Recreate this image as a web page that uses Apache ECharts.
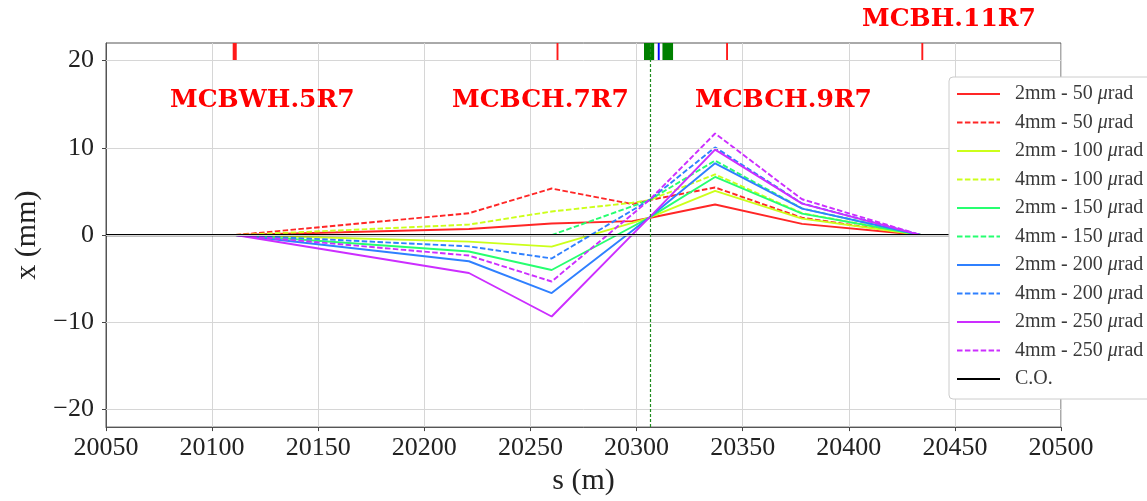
<!DOCTYPE html>
<html><head><meta charset="utf-8">
<script src="https://cdn.jsdelivr.net/npm/echarts@6/dist/echarts.min.js"></script>
<style>html,body{margin:0;padding:0;background:#fff}#c{width:1147px;height:501px}</style>
</head><body><div id="c"></div>
<script>
// ---- data ----
const S = [20111, 20221, 20260, 20298, 20306, 20337, 20378, 20434];
const seriesNames = ['2mm - 50 μrad','4mm - 50 μrad','2mm - 100 μrad','4mm - 100 μrad','2mm - 150 μrad','4mm - 150 μrad','2mm - 200 μrad','4mm - 200 μrad','2mm - 250 μrad','4mm - 250 μrad'];
const v2mm50  = [0,  0.70,  1.32, 1.60, 1.95,  3.50, 1.28, 0];
const v4mm50  = [0,  2.50,  5.33, 3.55, 4.00,  5.45, 1.98, 0];
const v2mm100 = [0, -0.75, -1.33, 1.40, 2.00,  5.07, 1.88, 0];
const v4mm100 = [0,  1.20,  2.70, 3.70, 4.00,  6.95, 2.50, 0];
const v2mm150 = [0, -1.88, -4.00, 0.95, 2.00,  6.65, 2.45, 0];
const v4mm150 = [0,  0.00,  0.00, 3.30, 4.00,  8.53, 3.05, 0];
const v2mm200 = [0, -3.00, -6.65, 0.49, 2.00,  8.22, 3.02, 0];
const v4mm200 = [0, -1.30, -2.68, 2.84, 4.00, 10.04, 3.62, 0];
const v2mm250 = [0, -4.35, -9.33, 0.05, 2.00,  9.78, 3.60, 0];
const v4mm250 = [0, -2.35, -5.32, 2.38, 4.00, 11.63, 4.10, 0];
const coS = [20050, 20500];
const coV = [0, 0];
const yTicks = [-20, -10, 0, 10, 20];
// top-strip elements: [s start, s end]
const redElems = [[20109.7, 20111.6], [20262.3, 20263.2], [20342.2, 20343.1], [20434.2, 20435.1]];
const greenElems = [[20303.5, 20308.3], [20312.2, 20317.2]];
const blueElems = [[20310.0, 20310.9]];
const ipLine = 20306.3;
const labels = [
  {text: 'MCBWH.5R7', x: 170, y: 102},
  {text: 'MCBCH.7R7', x: 452, y: 102},
  {text: 'MCBCH.9R7', x: 695, y: 102},
  {text: 'MCBH.11R7', x: 862, y: 21}
];
// ---- chart ----
const allVals = [v2mm50, v4mm50, v2mm100, v4mm100, v2mm150, v4mm150, v2mm200, v4mm200, v2mm250, v4mm250];
const colors = ['#ff2626', '#ff2626', '#ccff1a', '#ccff1a', '#26ff70', '#26ff70', '#2f80ff', '#2f80ff', '#cc2eff', '#cc2eff'];
const serif = 'Liberation Serif';
const series = allVals.map((vals, i) => ({
  name: seriesNames[i], type: 'line', symbol: 'none', z: 3,
  data: S.map((s, k) => [s, vals[k]]),
  lineStyle: {color: colors[i], width: 1.9, type: i % 2 ? [5.5, 2.4] : 'solid'},
  itemStyle: {color: colors[i]}
}));
series.push({
  name: 'C.O.', type: 'line', symbol: 'none', z: 4,
  data: coS.map((s, k) => [s, coV[k]]),
  lineStyle: {color: '#000', width: 2.2}, itemStyle: {color: '#000'}
});
const area = (arr, color) => arr.map(e => [{xAxis: e[0], yAxis: 20, itemStyle: {color}}, {xAxis: e[1], yAxis: 22}]);
series.push({
  name: 'helper', type: 'line', symbol: 'none', z: 1, silent: true,
  data: [[20050, null]],
  markLine: {
    silent: true, symbol: 'none', label: {show: false}, animation: false,
    data: [
      ...yTicks.map(v => ({yAxis: v, lineStyle: {color: '#d6d6d6', width: 1, type: 'solid'}})),
      {xAxis: ipLine, lineStyle: {color: '#1e8c1e', width: 1.2, type: [3, 2]}}
    ]
  },
  markArea: {
    silent: true, animation: false,
    data: [...area(redElems, '#ff1a1a'), ...area(greenElems, '#008000'), ...area(blueElems, '#0000ff')]
  }
});
const chart = echarts.init(document.getElementById('c'), null, {renderer: 'canvas'});
chart.setOption({
  animation: false,
  backgroundColor: '#fff',
  grid: {left: 106, right: 86, top: 43, bottom: 68, show: true, borderColor: '#555', borderWidth: 1, backgroundColor: 'transparent'},
  xAxis: {
    type: 'value', min: 20050, max: 20500, interval: 50,
    name: 's (m)', nameLocation: 'middle', nameGap: 34,
    nameTextStyle: {fontFamily: serif, fontSize: 30, color: '#222'},
    axisLine: {show: true, onZero: false, lineStyle: {color: '#555'}},
    axisTick: {show: true, inside: false, length: 4, lineStyle: {color: '#444'}},
    axisLabel: {fontFamily: serif, fontSize: 26, color: '#222', margin: 8, formatter: v => String(v)},
    splitLine: {show: true, lineStyle: {color: '#d6d6d6', width: 1}}
  },
  yAxis: {
    type: 'value', min: -22, max: 22,
    name: 'x (mm)', nameLocation: 'middle', nameGap: 58, nameRotate: 90,
    nameTextStyle: {fontFamily: serif, fontSize: 30, color: '#222'},
    axisLine: {show: true, lineStyle: {color: '#555'}},
    axisTick: {show: true, inside: false, length: 4, customValues: yTicks, lineStyle: {color: '#444'}},
    axisLabel: {fontFamily: serif, fontSize: 26, color: '#222', margin: 12, customValues: yTicks,
      formatter: v => (v < 0 ? '\u2212' + Math.abs(v) : String(v))},
    splitLine: {show: false}
  },
  legend: {
    data: [...seriesNames, 'C.O.'],
    orient: 'vertical', left: 949, top: 77, z: 20,
    itemWidth: 43, itemHeight: 14, itemGap: 8.5,
    padding: [7, 12, 10, 7],
    backgroundColor: '#fff', borderColor: '#ccc', borderWidth: 1, borderRadius: 4,
    selectedMode: false,
    itemStyle: {opacity: 0},
    formatter: n => n.replace('μrad', '{i|μ}rad'),
    textStyle: {fontFamily: serif, fontSize: 20, color: '#3a3a3a', padding: [0, 0, 0, 10],
      rich: {i: {fontFamily: serif, fontSize: 20, fontStyle: 'italic', color: '#3a3a3a'}}}
  },
  graphic: labels.map(l => ({
    type: 'text', left: l.x, top: l.y - 14, z: 10, silent: true,
    style: {text: l.text, fill: '#ff0000', font: 'bold 25px "DejaVu Serif"'}
  })),
  series
});
</script></body></html>
